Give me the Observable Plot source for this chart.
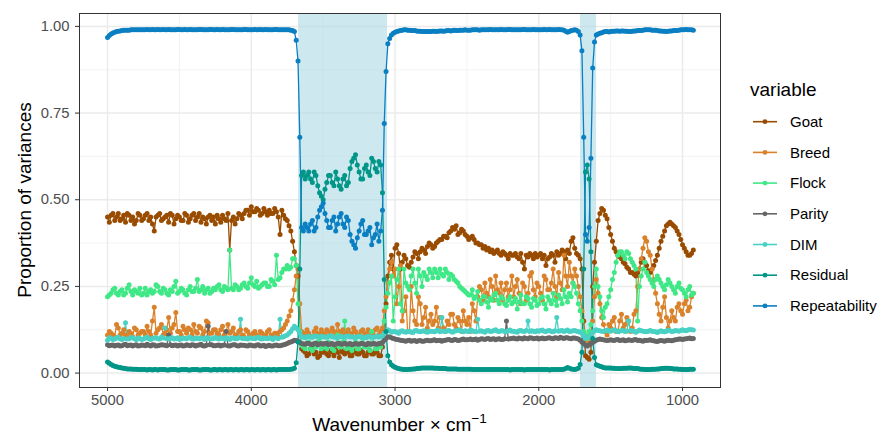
<!DOCTYPE html>
<html><head><meta charset="utf-8">
<script src="https://cdn.jsdelivr.net/npm/d3@7"></script>
<script src="https://cdn.jsdelivr.net/npm/@observablehq/plot@0.6"></script>
<style>
body{margin:0;background:#fff;font-family:"Liberation Sans",Arial,sans-serif;}
#chart{position:relative;width:881px;height:437px;}
</style></head><body><div id="chart"></div>
<script>
// sampling grid (main points) and in-between points
const wavenumber = [
5000,4975,4950,4925,4900,4875,4850,4825,4800,4775,
4750,4725,4700,4675,4650,4625,4600,4575,4550,4525,
4500,4475,4450,4425,4400,4375,4350,4325,4300,4275,
4250,4225,4200,4175,4150,4125,4100,4075,4050,4025,
4000,3975,3950,3925,3900,3875,3850,3825,3800,3775,
3750,3725,3700,3675,3650,3625,3600,3575,3550,3525,
3500,3475,3450,3425,3400,3375,3350,3325,3300,3275,
3250,3225,3200,3175,3150,3125,3100,3075,3050,3025,
3000,2975,2950,2925,2900,2875,2850,2825,2800,2775,
2750,2725,2700,2675,2650,2625,2600,2575,2550,2525,
2500,2475,2450,2425,2400,2375,2350,2325,2300,2275,
2250,2225,2200,2175,2150,2125,2100,2075,2050,2025,
2000,1975,1950,1925,1900,1875,1850,1825,1800,1775,
1750,1725,1700,1675,1650,1625,1600,1575,1550,1525,
1500,1475,1450,1425,1400,1375,1350,1325,1300,1275,
1250,1225,1200,1175,1150,1125,1100,1075,1050,1025,
1000,975,950,925];
const wavenumberMid = [
4987.5,4962.5,4937.5,4912.5,4887.5,4862.5,4837.5,4812.5,4787.5,4762.5,
4737.5,4712.5,4687.5,4662.5,4637.5,4612.5,4587.5,4562.5,4537.5,4512.5,
4487.5,4462.5,4437.5,4412.5,4387.5,4362.5,4337.5,4312.5,4287.5,4262.5,
4237.5,4212.5,4187.5,4162.5,4137.5,4112.5,4087.5,4062.5,4037.5,4012.5,
3987.5,3962.5,3937.5,3912.5,3887.5,3862.5,3837.5,3812.5,3787.5,3762.5,
3737.5,3712.5,3687.5,3662.5,3637.5,3612.5,3587.5,3562.5,3537.5,3512.5,
3487.5,3462.5,3437.5,3412.5,3387.5,3362.5,3337.5,3312.5,3287.5,3262.5,
3237.5,3212.5,3187.5,3162.5,3137.5,3112.5,3087.5,3062.5,3037.5,3012.5,
2987.5,2962.5,2937.5,2912.5,2887.5,2862.5,2837.5,2812.5,2787.5,2762.5,
2737.5,2712.5,2687.5,2662.5,2637.5,2612.5,2587.5,2562.5,2537.5,2512.5,
2487.5,2462.5,2437.5,2412.5,2387.5,2362.5,2337.5,2312.5,2287.5,2262.5,
2237.5,2212.5,2187.5,2162.5,2137.5,2112.5,2087.5,2062.5,2037.5,2012.5,
1987.5,1962.5,1937.5,1912.5,1887.5,1862.5,1837.5,1812.5,1787.5,1762.5,
1737.5,1712.5,1687.5,1662.5,1637.5,1612.5,1587.5,1562.5,1537.5,1512.5,
1487.5,1462.5,1437.5,1412.5,1387.5,1362.5,1337.5,1312.5,1287.5,1262.5,
1237.5,1212.5,1187.5,1162.5,1137.5,1112.5,1087.5,1062.5,1037.5,1012.5,
987.5,962.5,937.5];

const seriesNames = ["Goat","Breed","Flock","Parity","DIM","Residual","Repeatability"];
const seriesColors = ["#994C00","#D9822B","#3FE886","#666666","#48D1C4","#009688","#0A7FC2"];

const goat = [
0.450,0.455,0.440,0.460,0.445,0.435,0.455,0.450,0.440,0.455,
0.445,0.460,0.450,0.410,0.455,0.440,0.450,0.435,0.455,0.445,
0.450,0.440,0.455,0.445,0.460,0.450,0.435,0.445,0.450,0.440,
0.430,0.445,0.455,0.440,0.355,0.450,0.445,0.455,0.460,0.470,
0.480,0.465,0.470,0.460,0.465,0.470,0.460,0.465,0.400,0.455,
0.440,0.410,0.350,0.280,0.070,0.060,0.055,0.065,0.060,0.050,
0.060,0.055,0.065,0.050,0.060,0.070,0.055,0.060,0.050,0.065,
0.055,0.060,0.050,0.065,0.055,0.060,0.050,0.120,0.280,0.340,
0.360,0.345,0.320,0.330,0.305,0.335,0.345,0.350,0.355,0.365,
0.370,0.365,0.380,0.385,0.395,0.405,0.420,0.425,0.405,0.410,
0.395,0.390,0.385,0.375,0.370,0.365,0.360,0.355,0.350,0.345,
0.350,0.340,0.345,0.340,0.335,0.345,0.300,0.335,0.340,0.345,
0.340,0.330,0.310,0.335,0.340,0.350,0.345,0.350,0.355,0.380,
0.360,0.340,0.300,0.050,0.040,0.250,0.380,0.460,0.470,0.445,
0.400,0.360,0.340,0.330,0.315,0.300,0.290,0.280,0.300,0.330,
0.310,0.290,0.310,0.340,0.380,0.410,0.430,0.430,0.420,0.400,
0.370,0.350,0.340,0.355];
const goatMid = [
0.435,0.460,0.450,0.440,0.455,0.460,0.440,0.430,0.460,0.440,
0.455,0.440,0.430,0.450,0.460,0.445,0.455,0.460,0.430,0.455,
0.440,0.460,0.435,0.455,0.440,0.460,0.450,0.430,0.455,0.450,
0.455,0.435,0.445,0.460,0.440,0.430,0.460,0.445,0.470,0.455,
0.465,0.475,0.455,0.475,0.455,0.460,0.475,0.450,0.470,0.445,
0.425,0.380,0.310,0.120,0.065,0.050,0.070,0.055,0.045,0.060,
0.065,0.050,0.060,0.070,0.045,0.060,0.065,0.050,0.060,0.055,
0.065,0.050,0.060,0.055,0.065,0.050,0.075,0.200,0.320,0.300,
0.370,0.300,0.340,0.310,0.320,0.350,0.330,0.360,0.345,0.375,
0.360,0.375,0.385,0.395,0.390,0.410,0.415,0.400,0.415,0.400,
0.385,0.395,0.375,0.370,0.360,0.355,0.350,0.345,0.355,0.340,
0.345,0.330,0.340,0.345,0.330,0.320,0.340,0.345,0.330,0.335,
0.345,0.340,0.330,0.345,0.320,0.340,0.355,0.330,0.345,0.390,
0.345,0.330,0.150,0.045,0.060,0.320,0.440,0.475,0.455,0.420,
0.380,0.350,0.335,0.320,0.305,0.290,0.285,0.290,0.320,0.320,
0.295,0.300,0.325,0.360,0.395,0.425,0.435,0.425,0.410,0.385,
0.360,0.340,0.345];

const breed = [
0.110,0.115,0.105,0.130,0.115,0.110,0.120,0.105,0.125,0.115,
0.120,0.135,0.110,0.190,0.125,0.140,0.115,0.160,0.130,0.175,
0.120,0.135,0.115,0.125,0.140,0.115,0.130,0.120,0.145,0.115,
0.125,0.110,0.135,0.120,0.115,0.130,0.110,0.125,0.105,0.120,
0.110,0.120,0.105,0.115,0.110,0.125,0.105,0.115,0.120,0.130,
0.150,0.180,0.240,0.300,0.120,0.110,0.115,0.105,0.130,0.110,
0.115,0.125,0.110,0.120,0.140,0.115,0.110,0.125,0.115,0.120,
0.110,0.125,0.115,0.120,0.110,0.130,0.120,0.180,0.260,0.320,
0.300,0.250,0.150,0.220,0.120,0.180,0.140,0.200,0.160,0.130,
0.170,0.150,0.130,0.160,0.120,0.140,0.170,0.130,0.150,0.180,
0.140,0.120,0.180,0.220,0.240,0.260,0.220,0.250,0.280,0.230,
0.210,0.260,0.240,0.220,0.270,0.200,0.250,0.230,0.290,0.220,
0.250,0.210,0.270,0.240,0.300,0.220,0.260,0.340,0.250,0.280,
0.300,0.250,0.180,0.100,0.090,0.150,0.270,0.200,0.140,0.110,
0.130,0.160,0.120,0.170,0.140,0.150,0.130,0.180,0.300,0.360,
0.380,0.340,0.270,0.200,0.150,0.220,0.130,0.180,0.150,0.200,
0.170,0.210,0.190,0.230];
const breedMid = [
0.120,0.110,0.140,0.110,0.125,0.105,0.115,0.130,0.110,0.120,
0.110,0.120,0.150,0.115,0.130,0.110,0.125,0.115,0.140,0.120,
0.110,0.125,0.130,0.110,0.120,0.135,0.110,0.150,0.115,0.125,
0.115,0.125,0.110,0.140,0.120,0.110,0.120,0.110,0.125,0.110,
0.115,0.110,0.120,0.105,0.120,0.110,0.115,0.105,0.125,0.140,
0.165,0.210,0.280,0.200,0.115,0.125,0.105,0.120,0.115,0.125,
0.110,0.120,0.130,0.110,0.120,0.125,0.115,0.110,0.130,0.110,
0.120,0.110,0.125,0.115,0.125,0.110,0.130,0.220,0.300,0.280,
0.200,0.310,0.180,0.120,0.250,0.150,0.220,0.140,0.190,0.150,
0.140,0.190,0.160,0.130,0.150,0.170,0.140,0.160,0.120,0.150,
0.160,0.200,0.150,0.250,0.210,0.230,0.270,0.210,0.240,0.260,
0.240,0.220,0.280,0.250,0.230,0.260,0.210,0.280,0.240,0.260,
0.230,0.280,0.240,0.260,0.250,0.290,0.240,0.280,0.320,0.260,
0.280,0.220,0.120,0.095,0.110,0.220,0.230,0.160,0.120,0.140,
0.150,0.120,0.150,0.130,0.160,0.120,0.170,0.250,0.330,0.390,
0.350,0.300,0.230,0.170,0.190,0.160,0.150,0.160,0.190,0.180,
0.200,0.180,0.220];

const flock = [
0.220,0.230,0.245,0.225,0.240,0.230,0.255,0.225,0.235,0.245,
0.230,0.225,0.240,0.235,0.250,0.230,0.240,0.225,0.235,0.265,
0.235,0.240,0.225,0.250,0.235,0.270,0.240,0.230,0.245,0.235,
0.240,0.255,0.235,0.245,0.355,0.240,0.250,0.245,0.260,0.245,
0.275,0.250,0.245,0.255,0.260,0.250,0.265,0.340,0.275,0.300,
0.310,0.305,0.330,0.200,0.080,0.070,0.090,0.065,0.075,0.100,
0.075,0.070,0.085,0.065,0.110,0.075,0.150,0.080,0.065,0.090,
0.070,0.100,0.075,0.065,0.085,0.070,0.075,0.150,0.230,0.280,
0.220,0.300,0.180,0.260,0.240,0.300,0.230,0.280,0.290,0.270,
0.290,0.300,0.275,0.285,0.300,0.270,0.280,0.265,0.250,0.240,
0.230,0.225,0.215,0.235,0.200,0.220,0.190,0.210,0.230,0.200,
0.215,0.195,0.220,0.205,0.185,0.225,0.200,0.215,0.190,0.210,
0.200,0.220,0.185,0.210,0.230,0.195,0.215,0.240,0.205,0.220,
0.250,0.200,0.150,0.110,0.120,0.180,0.300,0.220,0.160,0.200,
0.240,0.290,0.340,0.350,0.330,0.345,0.320,0.300,0.250,0.300,
0.290,0.270,0.250,0.280,0.260,0.240,0.270,0.250,0.230,0.260,
0.240,0.220,0.250,0.230];
const flockMid = [
0.225,0.240,0.230,0.235,0.225,0.245,0.235,0.240,0.230,0.225,
0.245,0.235,0.230,0.255,0.235,0.245,0.230,0.240,0.250,0.230,
0.245,0.230,0.240,0.235,0.245,0.235,0.250,0.240,0.230,0.245,
0.250,0.240,0.250,0.240,0.245,0.255,0.240,0.255,0.250,0.260,
0.255,0.265,0.250,0.260,0.250,0.270,0.255,0.270,0.290,0.300,
0.300,0.330,0.310,0.120,0.075,0.085,0.070,0.080,0.090,0.070,
0.080,0.090,0.070,0.080,0.075,0.090,0.070,0.075,0.080,0.070,
0.085,0.075,0.080,0.120,0.070,0.080,0.090,0.190,0.260,0.150,
0.270,0.200,0.300,0.250,0.280,0.260,0.300,0.250,0.280,0.300,
0.275,0.290,0.300,0.280,0.290,0.285,0.270,0.260,0.245,0.235,
0.225,0.240,0.220,0.210,0.220,0.205,0.215,0.225,0.210,0.220,
0.200,0.210,0.200,0.215,0.205,0.200,0.220,0.200,0.215,0.195,
0.215,0.200,0.220,0.200,0.210,0.225,0.200,0.220,0.230,0.260,
0.230,0.180,0.120,0.100,0.140,0.250,0.250,0.180,0.190,0.220,
0.270,0.320,0.350,0.340,0.350,0.330,0.310,0.150,0.280,0.320,
0.280,0.260,0.270,0.270,0.250,0.255,0.260,0.240,0.250,0.245,
0.230,0.240,0.225];

const parity = [
0.082,0.080,0.078,0.081,0.079,0.083,0.080,0.078,0.082,0.079,
0.080,0.083,0.078,0.081,0.079,0.082,0.080,0.110,0.079,0.081,
0.080,0.078,0.082,0.079,0.081,0.080,0.083,0.078,0.135,0.082,
0.079,0.081,0.080,0.120,0.078,0.082,0.079,0.081,0.080,0.078,
0.080,0.078,0.082,0.079,0.077,0.080,0.078,0.081,0.079,0.082,
0.085,0.090,0.095,0.092,0.085,0.083,0.085,0.082,0.086,0.084,
0.083,0.086,0.084,0.082,0.085,0.083,0.086,0.084,0.082,0.085,
0.083,0.085,0.082,0.084,0.086,0.083,0.085,0.095,0.105,0.102,
0.098,0.096,0.094,0.092,0.095,0.093,0.091,0.094,0.092,0.095,
0.093,0.096,0.094,0.092,0.095,0.097,0.094,0.096,0.095,0.098,
0.096,0.098,0.097,0.095,0.099,0.097,0.100,0.098,0.096,0.099,
0.097,0.150,0.099,0.101,0.098,0.100,0.102,0.099,0.101,0.100,
0.098,0.101,0.100,0.102,0.099,0.101,0.103,0.100,0.102,0.099,
0.101,0.098,0.090,0.080,0.082,0.088,0.095,0.098,0.096,0.094,
0.096,0.094,0.097,0.095,0.093,0.096,0.094,0.097,0.095,0.092,
0.094,0.096,0.093,0.091,0.094,0.092,0.095,0.093,0.096,0.098,
0.097,0.099,0.101,0.100];
const parityMid = [
0.079,0.081,0.080,0.078,0.082,0.079,0.081,0.080,0.078,0.081,
0.079,0.080,0.082,0.078,0.080,0.081,0.079,0.082,0.080,0.078,
0.081,0.079,0.080,0.082,0.078,0.081,0.079,0.080,0.082,0.079,
0.080,0.078,0.081,0.079,0.080,0.082,0.078,0.080,0.079,0.081,
0.079,0.081,0.078,0.080,0.079,0.078,0.080,0.079,0.080,0.083,
0.088,0.092,0.094,0.088,0.084,0.086,0.083,0.085,0.082,0.085,
0.085,0.082,0.085,0.083,0.086,0.084,0.083,0.085,0.083,0.084,
0.085,0.083,0.086,0.083,0.084,0.085,0.088,0.100,0.104,0.100,
0.097,0.095,0.093,0.094,0.092,0.094,0.093,0.092,0.094,0.093,
0.095,0.093,0.095,0.094,0.096,0.095,0.097,0.094,0.097,0.096,
0.097,0.096,0.098,0.097,0.098,0.099,0.097,0.099,0.098,0.097,
0.099,0.098,0.100,0.099,0.101,0.098,0.100,0.102,0.099,0.101,
0.100,0.099,0.101,0.100,0.102,0.100,0.101,0.102,0.100,0.101,
0.100,0.095,0.085,0.078,0.085,0.092,0.097,0.097,0.095,0.095,
0.095,0.096,0.094,0.096,0.094,0.095,0.096,0.094,0.093,0.095,
0.095,0.094,0.092,0.093,0.093,0.094,0.094,0.095,0.097,0.098,
0.098,0.100,0.099];

const dim = [
0.095,0.100,0.098,0.103,0.097,0.145,0.099,0.102,0.096,0.100,
0.098,0.103,0.097,0.101,0.099,0.104,0.130,0.098,0.102,0.100,
0.097,0.101,0.099,0.103,0.098,0.100,0.102,0.097,0.101,0.099,
0.103,0.098,0.100,0.102,0.097,0.101,0.099,0.155,0.100,0.098,
0.101,0.099,0.103,0.098,0.100,0.102,0.097,0.101,0.155,0.105,
0.110,0.120,0.135,0.125,0.105,0.102,0.106,0.103,0.107,0.104,
0.105,0.103,0.108,0.104,0.102,0.106,0.103,0.107,0.105,0.102,
0.106,0.104,0.102,0.105,0.103,0.107,0.105,0.115,0.125,0.118,
0.120,0.115,0.122,0.118,0.121,0.117,0.123,0.119,0.122,0.118,
0.121,0.119,0.124,0.160,0.120,0.123,0.118,0.122,0.125,0.119,
0.121,0.124,0.120,0.155,0.122,0.118,0.123,0.121,0.125,0.120,
0.122,0.119,0.124,0.121,0.118,0.123,0.120,0.150,0.122,0.119,
0.121,0.124,0.120,0.123,0.119,0.160,0.122,0.120,0.124,0.121,
0.123,0.120,0.115,0.100,0.105,0.118,0.125,0.122,0.120,0.124,
0.121,0.125,0.119,0.123,0.120,0.150,0.122,0.118,0.124,0.121,
0.119,0.123,0.120,0.117,0.122,0.119,0.124,0.120,0.123,0.121,
0.125,0.122,0.126,0.124];
const dimMid = [
0.102,0.097,0.101,0.099,0.100,0.098,0.102,0.099,0.101,0.097,
0.101,0.099,0.100,0.102,0.098,0.101,0.099,0.100,0.098,0.102,
0.099,0.100,0.102,0.098,0.101,0.099,0.100,0.102,0.098,0.100,
0.100,0.102,0.098,0.100,0.101,0.099,0.102,0.100,0.099,0.101,
0.100,0.102,0.099,0.101,0.099,0.100,0.102,0.099,0.103,0.108,
0.115,0.128,0.130,0.115,0.104,0.105,0.104,0.106,0.105,0.106,
0.104,0.106,0.105,0.103,0.105,0.104,0.106,0.104,0.103,0.105,
0.104,0.103,0.106,0.104,0.105,0.104,0.108,0.120,0.122,0.120,
0.118,0.121,0.119,0.120,0.118,0.122,0.120,0.121,0.119,0.121,
0.120,0.122,0.119,0.121,0.122,0.120,0.121,0.123,0.121,0.122,
0.120,0.122,0.119,0.121,0.120,0.122,0.120,0.123,0.121,0.122,
0.120,0.122,0.121,0.119,0.122,0.121,0.123,0.120,0.121,0.122,
0.123,0.121,0.122,0.120,0.122,0.121,0.123,0.122,0.120,0.122,
0.121,0.118,0.108,0.102,0.110,0.122,0.123,0.121,0.122,0.122,
0.123,0.122,0.121,0.122,0.121,0.123,0.120,0.121,0.122,0.120,
0.121,0.121,0.119,0.120,0.120,0.121,0.122,0.121,0.122,0.123,
0.123,0.124,0.125];

const residual = [
0.032,0.025,0.020,0.017,0.015,0.013,0.012,0.011,0.011,0.010,
0.010,0.009,0.010,0.010,0.009,0.010,0.010,0.009,0.010,0.010,
0.009,0.010,0.010,0.009,0.010,0.010,0.009,0.010,0.010,0.009,
0.010,0.010,0.009,0.010,0.010,0.009,0.010,0.010,0.009,0.010,
0.010,0.009,0.010,0.010,0.009,0.010,0.010,0.009,0.010,0.010,
0.010,0.011,0.014,0.090,0.570,0.560,0.580,0.550,0.570,0.520,
0.500,0.550,0.570,0.540,0.560,0.530,0.570,0.550,0.610,0.630,
0.580,0.560,0.600,0.570,0.610,0.580,0.600,0.270,0.050,0.024,
0.017,0.013,0.011,0.010,0.011,0.012,0.013,0.014,0.015,0.015,
0.015,0.014,0.014,0.013,0.013,0.012,0.012,0.012,0.011,0.011,
0.011,0.011,0.010,0.010,0.010,0.010,0.010,0.010,0.010,0.010,
0.010,0.010,0.009,0.010,0.010,0.010,0.009,0.010,0.010,0.010,
0.010,0.010,0.010,0.009,0.010,0.010,0.010,0.011,0.016,0.012,
0.010,0.014,0.060,0.580,0.560,0.100,0.024,0.020,0.016,0.015,
0.015,0.014,0.013,0.013,0.014,0.015,0.014,0.013,0.012,0.011,
0.010,0.010,0.011,0.012,0.013,0.014,0.014,0.013,0.012,0.011,
0.010,0.010,0.011,0.011];
const residualMid = [
0.028,0.022,0.018,0.016,0.014,0.012,0.012,0.011,0.010,0.010,
0.010,0.010,0.009,0.010,0.010,0.010,0.009,0.010,0.010,0.009,
0.010,0.010,0.009,0.010,0.010,0.009,0.010,0.010,0.009,0.010,
0.009,0.010,0.010,0.009,0.010,0.010,0.009,0.010,0.010,0.009,
0.010,0.010,0.009,0.010,0.010,0.009,0.010,0.010,0.010,0.010,
0.010,0.012,0.030,0.300,0.580,0.570,0.560,0.580,0.540,0.510,
0.530,0.570,0.550,0.580,0.540,0.560,0.540,0.590,0.620,0.600,
0.560,0.590,0.580,0.620,0.590,0.610,0.520,0.120,0.032,0.020,
0.015,0.012,0.010,0.010,0.011,0.012,0.013,0.015,0.015,0.015,
0.015,0.014,0.013,0.013,0.012,0.012,0.012,0.011,0.011,0.011,
0.011,0.010,0.010,0.010,0.010,0.010,0.010,0.010,0.010,0.010,
0.010,0.010,0.010,0.010,0.010,0.010,0.010,0.010,0.010,0.010,
0.010,0.010,0.010,0.010,0.010,0.010,0.010,0.013,0.014,0.011,
0.012,0.025,0.300,0.600,0.350,0.045,0.022,0.018,0.015,0.015,
0.014,0.013,0.013,0.014,0.014,0.015,0.013,0.013,0.011,0.010,
0.010,0.011,0.011,0.012,0.013,0.014,0.013,0.012,0.012,0.011,
0.010,0.010,0.011];

const repeatability = [
0.968,0.978,0.983,0.986,0.988,0.989,0.989,0.990,0.990,0.990,
0.990,0.991,0.990,0.990,0.991,0.990,0.990,0.991,0.990,0.990,
0.991,0.990,0.990,0.991,0.990,0.990,0.991,0.990,0.990,0.991,
0.990,0.990,0.991,0.990,0.990,0.991,0.990,0.990,0.991,0.990,
0.990,0.991,0.990,0.990,0.991,0.990,0.990,0.991,0.990,0.990,
0.990,0.989,0.985,0.900,0.420,0.430,0.410,0.440,0.420,0.470,
0.490,0.440,0.420,0.450,0.430,0.460,0.420,0.440,0.380,0.360,
0.410,0.440,0.400,0.420,0.390,0.430,0.410,0.720,0.950,0.975,
0.983,0.987,0.989,0.990,0.989,0.988,0.987,0.986,0.985,0.985,
0.985,0.986,0.986,0.987,0.987,0.988,0.988,0.988,0.989,0.989,
0.989,0.989,0.990,0.990,0.990,0.990,0.990,0.990,0.990,0.990,
0.990,0.990,0.991,0.990,0.990,0.990,0.991,0.990,0.990,0.990,
0.990,0.990,0.990,0.991,0.990,0.990,0.990,0.989,0.983,0.988,
0.990,0.985,0.930,0.400,0.420,0.880,0.975,0.980,0.984,0.985,
0.985,0.986,0.987,0.987,0.986,0.985,0.986,0.987,0.988,0.989,
0.990,0.990,0.989,0.988,0.987,0.986,0.986,0.987,0.988,0.989,
0.990,0.991,0.990,0.989];
const repeatabilityMid = [
0.974,0.981,0.985,0.987,0.989,0.989,0.990,0.990,0.990,0.990,
0.990,0.990,0.991,0.990,0.990,0.991,0.990,0.990,0.990,0.991,
0.990,0.991,0.990,0.990,0.990,0.991,0.990,0.990,0.991,0.990,
0.991,0.990,0.990,0.990,0.991,0.990,0.990,0.990,0.991,0.990,
0.990,0.990,0.991,0.990,0.990,0.990,0.991,0.990,0.990,0.990,
0.990,0.988,0.960,0.680,0.410,0.420,0.430,0.410,0.450,0.480,
0.460,0.420,0.440,0.410,0.450,0.430,0.450,0.400,0.370,0.390,
0.430,0.400,0.410,0.370,0.400,0.380,0.470,0.870,0.965,0.980,
0.985,0.988,0.990,0.989,0.988,0.988,0.986,0.985,0.985,0.985,
0.986,0.985,0.987,0.986,0.988,0.987,0.989,0.988,0.989,0.990,
0.989,0.990,0.990,0.989,0.990,0.990,0.991,0.990,0.990,0.991,
0.990,0.991,0.990,0.990,0.990,0.991,0.990,0.990,0.991,0.990,
0.990,0.991,0.990,0.990,0.990,0.991,0.990,0.986,0.985,0.989,
0.989,0.975,0.680,0.380,0.620,0.955,0.978,0.982,0.985,0.984,
0.986,0.987,0.986,0.987,0.986,0.985,0.987,0.988,0.988,0.990,
0.990,0.989,0.989,0.987,0.986,0.985,0.987,0.988,0.988,0.990,
0.990,0.990,0.990];

const shadeStart = [3671, 1710];
const shadeEnd = [3052, 1598];
const xTicks = [5000, 4000, 3000, 2000, 1000];
const xMinorTicks = [4500, 3500, 2500, 1500];
const yTicks = [0, 0.25, 0.5, 0.75, 1];
const yMinorTicks = [0.125, 0.375, 0.625, 0.875];

const seriesValues = [goat, breed, flock, parity, dim, residual, repeatability];
const seriesMidValues = [goatMid, breedMid, flockMid, parityMid, dimMid, residualMid, repeatabilityMid];
seriesValues.forEach((arr, k) => {
  if (arr.length !== wavenumber.length) throw new Error(seriesNames[k] + " length " + arr.length);
  if (seriesMidValues[k].length !== wavenumberMid.length) throw new Error(seriesNames[k] + " mid length " + seriesMidValues[k].length);
});

const rows = [];
seriesNames.forEach((name, k) => {
  wavenumber.forEach((w, i) => {
    rows.push({variable: name, wavenumber: w, value: seriesValues[k][i]});
    if (i < wavenumberMid.length) rows.push({variable: name, wavenumber: wavenumberMid[i], value: seriesMidValues[k][i]});
  });
});
const shades = shadeStart.map((s, i) => ({start: s, end: shadeEnd[i]}));

const font = '"Liberation Sans", Arial, sans-serif';
const chart = Plot.plot({
  width: 881, height: 437,
  marginLeft: 79, marginRight: 161, marginTop: 13, marginBottom: 50,
  style: {fontFamily: font, fontSize: "14.8px", background: "white", color: "#4D4D4D"},
  x: {domain: [5195, 736], label: null},
  y: {domain: [-0.0416, 1.0372], label: null},
  color: {domain: seriesNames, range: seriesColors},
  marks: [
    Plot.gridX(xMinorTicks, {stroke: "#F0F0F0", strokeOpacity: 1, strokeWidth: 0.8}),
    Plot.gridY(yMinorTicks, {stroke: "#F0F0F0", strokeOpacity: 1, strokeWidth: 0.8}),
    Plot.gridX(xTicks, {stroke: "#EBEBEB", strokeOpacity: 1, strokeWidth: 1.5}),
    Plot.gridY(yTicks, {stroke: "#EBEBEB", strokeOpacity: 1, strokeWidth: 1.5}),
    Plot.rect(shades, {x1: "start", x2: "end", fill: "#ADD8E6", fillOpacity: 0.6}),
    Plot.line(rows, {x: "wavenumber", y: "value", z: "variable", stroke: "variable", strokeWidth: 1.3}),
    Plot.dot(rows, {x: "wavenumber", y: "value", fill: "variable", r: 2.5}),
    Plot.frame({stroke: "#333333", strokeWidth: 1}),
    Plot.axisX({ticks: xTicks, tickFormat: d => String(d), tickSize: 4, tickPadding: 3, label: null, stroke: "#333333"}),
    Plot.axisY({ticks: yTicks, tickFormat: d => d.toFixed(2), tickSize: 4, tickPadding: 6, label: null, stroke: "#333333"})
  ]
});
document.getElementById("chart").appendChild(chart);

const svg = d3.select(chart);
svg.append("text")
  .attr("transform", "translate(31,200) rotate(-90)")
  .attr("text-anchor", "middle")
  .style("font-family", font).style("font-size", "19px").attr("fill", "#000")
  .text("Proportion of variances");
const xt = svg.append("text")
  .attr("x", 399.5).attr("y", 431)
  .attr("text-anchor", "middle")
  .style("font-family", font).style("font-size", "19px").attr("fill", "#000");
xt.append("tspan").text("Wavenumber \u00D7 cm");
xt.append("tspan").attr("dy", -8).style("font-size", "13.5px").text("\u22121");

const lg = svg.append("g").attr("text-anchor", "start");
lg.append("text").attr("x", 750).attr("y", 96).attr("text-anchor", "start")
  .style("font-family", font).style("font-size", "19px").attr("fill", "#000").text("variable");
seriesNames.forEach((name, k) => {
  const y = 121.7 + k * 30.7;
  lg.append("line").attr("x1", 753).attr("x2", 777).attr("y1", y).attr("y2", y)
    .attr("stroke", seriesColors[k]).attr("stroke-width", 1.6);
  lg.append("circle").attr("cx", 765).attr("cy", y).attr("r", 2.4).attr("fill", seriesColors[k]);
  lg.append("text").attr("x", 790).attr("y", y).attr("dy", "0.35em").attr("text-anchor", "start")
    .style("font-family", font).style("font-size", "15px").attr("fill", "#000").text(name);
});
</script></body></html>
